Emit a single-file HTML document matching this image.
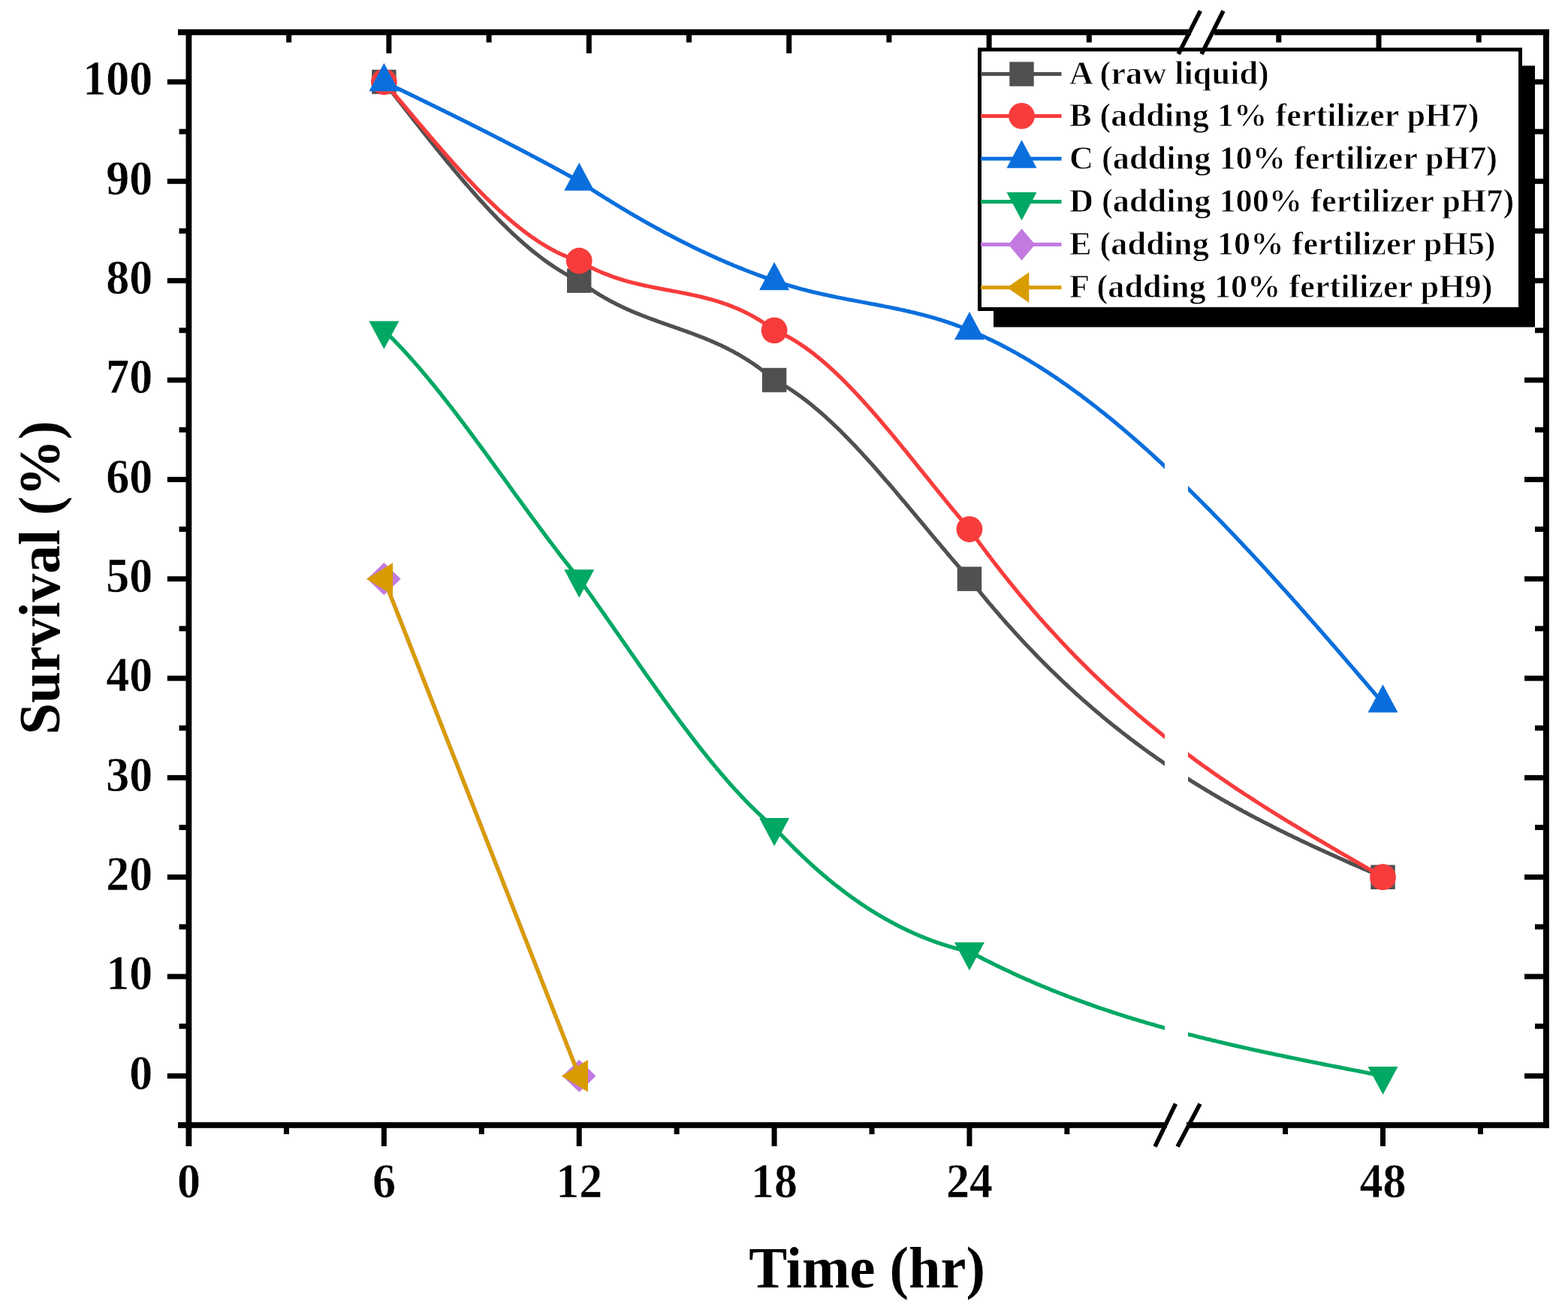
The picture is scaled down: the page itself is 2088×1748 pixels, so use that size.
<!DOCTYPE html>
<html><head><meta charset="utf-8"><title>Survival chart</title>
<style>html,body{margin:0;padding:0;background:#fff;}svg{display:block}</style>
</head><body>
<svg xmlns="http://www.w3.org/2000/svg" width="2088" height="1748" viewBox="0 0 2088 1748">
<rect x="0" y="0" width="2088" height="1748" fill="#fff"/>
<rect x="237.00" y="39.00" width="1349.00" height="7.80" fill="#000"/>
<rect x="1617.00" y="39.00" width="445.80" height="7.80" fill="#000"/>
<rect x="237.00" y="1494.00" width="1316.50" height="7.80" fill="#000"/>
<rect x="1580.00" y="1494.00" width="482.80" height="7.80" fill="#000"/>
<rect x="247.50" y="39.00" width="7.80" height="1487.00" fill="#000"/>
<rect x="2055.00" y="39.00" width="7.80" height="1462.80" fill="#000"/>
<rect x="222.80" y="1428.90" width="25.70" height="7.00" fill="#000"/>
<rect x="2030.00" y="1428.90" width="26.00" height="7.00" fill="#000"/>
<rect x="222.80" y="1296.56" width="25.70" height="7.00" fill="#000"/>
<rect x="2030.00" y="1296.56" width="26.00" height="7.00" fill="#000"/>
<rect x="222.80" y="1164.22" width="25.70" height="7.00" fill="#000"/>
<rect x="2030.00" y="1164.22" width="26.00" height="7.00" fill="#000"/>
<rect x="222.80" y="1031.88" width="25.70" height="7.00" fill="#000"/>
<rect x="2030.00" y="1031.88" width="26.00" height="7.00" fill="#000"/>
<rect x="222.80" y="899.54" width="25.70" height="7.00" fill="#000"/>
<rect x="2030.00" y="899.54" width="26.00" height="7.00" fill="#000"/>
<rect x="222.80" y="767.20" width="25.70" height="7.00" fill="#000"/>
<rect x="2030.00" y="767.20" width="26.00" height="7.00" fill="#000"/>
<rect x="222.80" y="634.86" width="25.70" height="7.00" fill="#000"/>
<rect x="2030.00" y="634.86" width="26.00" height="7.00" fill="#000"/>
<rect x="222.80" y="502.52" width="25.70" height="7.00" fill="#000"/>
<rect x="2030.00" y="502.52" width="26.00" height="7.00" fill="#000"/>
<rect x="222.80" y="370.18" width="25.70" height="7.00" fill="#000"/>
<rect x="2030.00" y="370.18" width="26.00" height="7.00" fill="#000"/>
<rect x="222.80" y="237.84" width="25.70" height="7.00" fill="#000"/>
<rect x="2030.00" y="237.84" width="26.00" height="7.00" fill="#000"/>
<rect x="222.80" y="105.50" width="25.70" height="7.00" fill="#000"/>
<rect x="2030.00" y="105.50" width="26.00" height="7.00" fill="#000"/>
<rect x="238.50" y="1362.73" width="10.00" height="7.00" fill="#000"/>
<rect x="2044.00" y="1362.73" width="12.00" height="7.00" fill="#000"/>
<rect x="238.50" y="1230.39" width="10.00" height="7.00" fill="#000"/>
<rect x="2044.00" y="1230.39" width="12.00" height="7.00" fill="#000"/>
<rect x="238.50" y="1098.05" width="10.00" height="7.00" fill="#000"/>
<rect x="2044.00" y="1098.05" width="12.00" height="7.00" fill="#000"/>
<rect x="238.50" y="965.71" width="10.00" height="7.00" fill="#000"/>
<rect x="2044.00" y="965.71" width="12.00" height="7.00" fill="#000"/>
<rect x="238.50" y="833.37" width="10.00" height="7.00" fill="#000"/>
<rect x="2044.00" y="833.37" width="12.00" height="7.00" fill="#000"/>
<rect x="238.50" y="701.03" width="10.00" height="7.00" fill="#000"/>
<rect x="2044.00" y="701.03" width="12.00" height="7.00" fill="#000"/>
<rect x="238.50" y="568.69" width="10.00" height="7.00" fill="#000"/>
<rect x="2044.00" y="568.69" width="12.00" height="7.00" fill="#000"/>
<rect x="238.50" y="436.35" width="10.00" height="7.00" fill="#000"/>
<rect x="2044.00" y="436.35" width="12.00" height="7.00" fill="#000"/>
<rect x="238.50" y="304.01" width="10.00" height="7.00" fill="#000"/>
<rect x="2044.00" y="304.01" width="12.00" height="7.00" fill="#000"/>
<rect x="238.50" y="171.67" width="10.00" height="7.00" fill="#000"/>
<rect x="2044.00" y="171.67" width="12.00" height="7.00" fill="#000"/>
<rect x="507.86" y="1500.80" width="7.00" height="25.20" fill="#000"/>
<rect x="767.72" y="1500.80" width="7.00" height="25.20" fill="#000"/>
<rect x="1027.58" y="1500.80" width="7.00" height="25.20" fill="#000"/>
<rect x="1287.44" y="1500.80" width="7.00" height="25.20" fill="#000"/>
<rect x="1838.00" y="1500.80" width="7.00" height="25.20" fill="#000"/>
<rect x="377.93" y="1500.80" width="7.00" height="9.20" fill="#000"/>
<rect x="637.79" y="1500.80" width="7.00" height="9.20" fill="#000"/>
<rect x="897.65" y="1500.80" width="7.00" height="9.20" fill="#000"/>
<rect x="1157.51" y="1500.80" width="7.00" height="9.20" fill="#000"/>
<rect x="1417.37" y="1500.80" width="7.00" height="9.20" fill="#000"/>
<rect x="1708.07" y="1500.80" width="7.00" height="9.20" fill="#000"/>
<rect x="1967.93" y="1500.80" width="7.00" height="9.20" fill="#000"/>
<rect x="514.40" y="40.00" width="7.00" height="31.00" fill="#000"/>
<rect x="780.80" y="40.00" width="7.00" height="31.00" fill="#000"/>
<rect x="1047.20" y="40.00" width="7.00" height="31.00" fill="#000"/>
<rect x="1313.60" y="40.00" width="7.00" height="31.00" fill="#000"/>
<rect x="1832.50" y="40.00" width="7.00" height="31.00" fill="#000"/>
<rect x="381.20" y="40.00" width="7.00" height="16.50" fill="#000"/>
<rect x="647.60" y="40.00" width="7.00" height="16.50" fill="#000"/>
<rect x="914.00" y="40.00" width="7.00" height="16.50" fill="#000"/>
<rect x="1180.40" y="40.00" width="7.00" height="16.50" fill="#000"/>
<rect x="1446.80" y="40.00" width="7.00" height="16.50" fill="#000"/>
<rect x="1699.30" y="40.00" width="7.00" height="16.50" fill="#000"/>
<rect x="1965.70" y="40.00" width="7.00" height="16.50" fill="#000"/>
<text transform="translate(203.2,1449.7) scale(1,1.06)" text-anchor="end" style="font-family:'Liberation Serif','Times New Roman',serif;font-weight:bold;font-size:62px" stroke="#fff" stroke-width="0.5">0</text>
<text transform="translate(203.2,1317.4) scale(1,1.06)" text-anchor="end" style="font-family:'Liberation Serif','Times New Roman',serif;font-weight:bold;font-size:62px" stroke="#fff" stroke-width="0.5">10</text>
<text transform="translate(203.2,1185.0) scale(1,1.06)" text-anchor="end" style="font-family:'Liberation Serif','Times New Roman',serif;font-weight:bold;font-size:62px" stroke="#fff" stroke-width="0.5">20</text>
<text transform="translate(203.2,1052.7) scale(1,1.06)" text-anchor="end" style="font-family:'Liberation Serif','Times New Roman',serif;font-weight:bold;font-size:62px" stroke="#fff" stroke-width="0.5">30</text>
<text transform="translate(203.2,920.3) scale(1,1.06)" text-anchor="end" style="font-family:'Liberation Serif','Times New Roman',serif;font-weight:bold;font-size:62px" stroke="#fff" stroke-width="0.5">40</text>
<text transform="translate(203.2,788.0) scale(1,1.06)" text-anchor="end" style="font-family:'Liberation Serif','Times New Roman',serif;font-weight:bold;font-size:62px" stroke="#fff" stroke-width="0.5">50</text>
<text transform="translate(203.2,655.7) scale(1,1.06)" text-anchor="end" style="font-family:'Liberation Serif','Times New Roman',serif;font-weight:bold;font-size:62px" stroke="#fff" stroke-width="0.5">60</text>
<text transform="translate(203.2,523.3) scale(1,1.06)" text-anchor="end" style="font-family:'Liberation Serif','Times New Roman',serif;font-weight:bold;font-size:62px" stroke="#fff" stroke-width="0.5">70</text>
<text transform="translate(203.2,391.0) scale(1,1.06)" text-anchor="end" style="font-family:'Liberation Serif','Times New Roman',serif;font-weight:bold;font-size:62px" stroke="#fff" stroke-width="0.5">80</text>
<text transform="translate(203.2,258.6) scale(1,1.06)" text-anchor="end" style="font-family:'Liberation Serif','Times New Roman',serif;font-weight:bold;font-size:62px" stroke="#fff" stroke-width="0.5">90</text>
<text transform="translate(203.2,126.3) scale(1,1.06)" text-anchor="end" style="font-family:'Liberation Serif','Times New Roman',serif;font-weight:bold;font-size:62px" stroke="#fff" stroke-width="0.5">100</text>
<text transform="translate(251.5,1594.2) scale(1,1.06)" text-anchor="middle" style="font-family:'Liberation Serif','Times New Roman',serif;font-weight:bold;font-size:62px" stroke="#fff" stroke-width="0.5">0</text>
<text transform="translate(511.4,1594.2) scale(1,1.06)" text-anchor="middle" style="font-family:'Liberation Serif','Times New Roman',serif;font-weight:bold;font-size:62px" stroke="#fff" stroke-width="0.5">6</text>
<text transform="translate(771.2,1594.2) scale(1,1.06)" text-anchor="middle" style="font-family:'Liberation Serif','Times New Roman',serif;font-weight:bold;font-size:62px" stroke="#fff" stroke-width="0.5">12</text>
<text transform="translate(1031.1,1594.2) scale(1,1.06)" text-anchor="middle" style="font-family:'Liberation Serif','Times New Roman',serif;font-weight:bold;font-size:62px" stroke="#fff" stroke-width="0.5">18</text>
<text transform="translate(1290.9,1594.2) scale(1,1.06)" text-anchor="middle" style="font-family:'Liberation Serif','Times New Roman',serif;font-weight:bold;font-size:62px" stroke="#fff" stroke-width="0.5">24</text>
<text transform="translate(1841.5,1594.2) scale(1,1.06)" text-anchor="middle" style="font-family:'Liberation Serif','Times New Roman',serif;font-weight:bold;font-size:62px" stroke="#fff" stroke-width="0.5">48</text>
<text transform="translate(1154.5,1713.6) scale(0.986,1)" text-anchor="middle" style="font-family:'Liberation Serif','Times New Roman',serif;font-weight:bold;font-size:77.5px">Time (hr)</text>
<text transform="translate(79,769) rotate(-90) scale(0.976,1)" x="0" y="0" text-anchor="middle" style="font-family:'Liberation Serif','Times New Roman',serif;font-weight:bold;font-size:77.5px">Survival (%)</text>
<defs><clipPath id="gap"><rect x="0" y="0" width="1551.0" height="1748"/><rect x="1582.0" y="0" width="506.0" height="1748"/></clipPath></defs>
<path d="M511.4,109.0 L512.7,110.7 L514.0,112.3 L515.3,114.0 L516.6,115.7 L517.9,117.3 L519.2,119.0 L520.5,120.7 L521.8,122.3 L523.1,124.0 L524.4,125.7 L525.7,127.4 L527.0,129.0 L528.3,130.7 L529.6,132.4 L530.9,134.0 L532.3,135.7 L533.6,137.4 L534.9,139.1 L536.2,140.7 L537.5,142.4 L538.8,144.1 L540.1,145.7 L541.4,147.4 L542.7,149.1 L544.0,150.7 L545.3,152.4 L546.6,154.1 L547.9,155.7 L549.2,157.4 L550.5,159.1 L551.8,160.7 L553.1,162.4 L554.5,164.0 L555.8,165.7 L557.1,167.4 L558.4,169.0 L559.7,170.7 L561.0,172.3 L562.3,174.0 L563.6,175.6 L564.9,177.3 L566.2,178.9 L567.5,180.5 L568.8,182.2 L570.1,183.8 L571.4,185.5 L572.7,187.1 L574.0,188.7 L575.3,190.4 L576.7,192.0 L578.0,193.6 L579.3,195.2 L580.6,196.9 L581.9,198.5 L583.2,200.1 L584.5,201.7 L585.8,203.3 L587.1,204.9 L588.4,206.5 L589.7,208.1 L591.0,209.7 L592.3,211.3 L593.6,212.9 L594.9,214.5 L596.2,216.1 L597.5,217.7 L598.9,219.3 L600.2,220.8 L601.5,222.4 L602.8,224.0 L604.1,225.6 L605.4,227.1 L606.7,228.7 L608.0,230.2 L609.3,231.8 L610.6,233.3 L611.9,234.9 L613.2,236.4 L614.5,237.9 L615.8,239.5 L617.1,241.0 L618.4,242.5 L619.7,244.0 L621.0,245.6 L622.4,247.1 L623.7,248.6 L625.0,250.1 L626.3,251.6 L627.6,253.1 L628.9,254.5 L630.2,256.0 L631.5,257.5 L632.8,259.0 L634.1,260.4 L635.4,261.9 L636.7,263.4 L638.0,264.8 L639.3,266.2 L640.6,267.7 L641.9,269.1 L643.2,270.5 L644.6,272.0 L645.9,273.4 L647.2,274.8 L648.5,276.2 L649.8,277.6 L651.1,279.0 L652.4,280.4 L653.7,281.8 L655.0,283.1 L656.3,284.5 L657.6,285.9 L658.9,287.2 L660.2,288.6 L661.5,289.9 L662.8,291.3 L664.1,292.6 L665.4,293.9 L666.8,295.3 L668.1,296.6 L669.4,297.9 L670.7,299.2 L672.0,300.5 L673.3,301.7 L674.6,303.0 L675.9,304.3 L677.2,305.6 L678.5,306.8 L679.8,308.1 L681.1,309.3 L682.4,310.5 L683.7,311.8 L685.0,313.0 L686.3,314.2 L687.6,315.4 L689.0,316.6 L690.3,317.8 L691.6,319.0 L692.9,320.1 L694.2,321.3 L695.5,322.5 L696.8,323.6 L698.1,324.8 L699.4,325.9 L700.7,327.0 L702.0,328.1 L703.3,329.2 L704.6,330.3 L705.9,331.4 L707.2,332.5 L708.5,333.6 L709.8,334.6 L711.2,335.7 L712.5,336.7 L713.8,337.8 L715.1,338.8 L716.4,339.8 L717.7,340.8 L719.0,341.8 L720.3,342.8 L721.6,343.8 L722.9,344.8 L724.2,345.8 L725.5,346.7 L726.8,347.7 L728.1,348.6 L729.4,349.5 L730.7,350.4 L732.0,351.3 L733.4,352.2 L734.7,353.1 L736.0,354.0 L737.3,354.9 L738.6,355.7 L739.9,356.6 L741.2,357.4 L742.5,358.2 L743.8,359.1 L745.1,359.9 L746.4,360.7 L747.7,361.4 L749.0,362.2 L750.3,363.0 L751.6,363.7 L752.9,364.5 L754.2,365.2 L755.6,365.9 L756.9,366.6 L758.2,367.3 L759.5,368.0 L760.8,368.7 L762.1,369.4 L763.4,370.0 L764.7,370.6 L766.0,371.3 L767.3,371.9 L768.6,372.5 L769.9,373.1 L771.2,373.7 L771.2,373.7 L772.5,374.7 L773.8,375.7 L775.1,376.7 L776.4,377.6 L777.7,378.6 L779.1,379.6 L780.4,380.5 L781.7,381.4 L783.0,382.4 L784.3,383.3 L785.6,384.2 L786.9,385.0 L788.2,385.9 L789.5,386.8 L790.8,387.6 L792.1,388.5 L793.4,389.3 L794.7,390.2 L796.0,391.0 L797.3,391.8 L798.6,392.6 L799.9,393.4 L801.3,394.1 L802.6,394.9 L803.9,395.7 L805.2,396.4 L806.5,397.2 L807.8,397.9 L809.1,398.6 L810.4,399.4 L811.7,400.1 L813.0,400.8 L814.3,401.5 L815.6,402.2 L816.9,402.8 L818.2,403.5 L819.5,404.2 L820.8,404.8 L822.1,405.5 L823.5,406.1 L824.8,406.8 L826.1,407.4 L827.4,408.0 L828.7,408.7 L830.0,409.3 L831.3,409.9 L832.6,410.5 L833.9,411.1 L835.2,411.7 L836.5,412.2 L837.8,412.8 L839.1,413.4 L840.4,414.0 L841.7,414.5 L843.0,415.1 L844.3,415.6 L845.7,416.2 L847.0,416.7 L848.3,417.2 L849.6,417.8 L850.9,418.3 L852.2,418.8 L853.5,419.4 L854.8,419.9 L856.1,420.4 L857.4,420.9 L858.7,421.4 L860.0,421.9 L861.3,422.4 L862.6,422.9 L863.9,423.4 L865.2,423.9 L866.5,424.4 L867.9,424.8 L869.2,425.3 L870.5,425.8 L871.8,426.3 L873.1,426.7 L874.4,427.2 L875.7,427.7 L877.0,428.2 L878.3,428.6 L879.6,429.1 L880.9,429.6 L882.2,430.0 L883.5,430.5 L884.8,430.9 L886.1,431.4 L887.4,431.9 L888.7,432.3 L890.1,432.8 L891.4,433.2 L892.7,433.7 L894.0,434.1 L895.3,434.6 L896.6,435.1 L897.9,435.5 L899.2,436.0 L900.5,436.4 L901.8,436.9 L903.1,437.3 L904.4,437.8 L905.7,438.3 L907.0,438.7 L908.3,439.2 L909.6,439.6 L910.9,440.1 L912.2,440.6 L913.6,441.0 L914.9,441.5 L916.2,442.0 L917.5,442.5 L918.8,442.9 L920.1,443.4 L921.4,443.9 L922.7,444.4 L924.0,444.9 L925.3,445.4 L926.6,445.9 L927.9,446.4 L929.2,446.9 L930.5,447.4 L931.8,447.9 L933.1,448.4 L934.4,448.9 L935.8,449.4 L937.1,449.9 L938.4,450.4 L939.7,451.0 L941.0,451.5 L942.3,452.1 L943.6,452.6 L944.9,453.1 L946.2,453.7 L947.5,454.3 L948.8,454.8 L950.1,455.4 L951.4,456.0 L952.7,456.5 L954.0,457.1 L955.3,457.7 L956.6,458.3 L958.0,458.9 L959.3,459.5 L960.6,460.1 L961.9,460.7 L963.2,461.4 L964.5,462.0 L965.8,462.6 L967.1,463.3 L968.4,463.9 L969.7,464.6 L971.0,465.3 L972.3,466.0 L973.6,466.6 L974.9,467.3 L976.2,468.0 L977.5,468.7 L978.8,469.4 L980.2,470.2 L981.5,470.9 L982.8,471.6 L984.1,472.4 L985.4,473.1 L986.7,473.9 L988.0,474.7 L989.3,475.5 L990.6,476.3 L991.9,477.1 L993.2,477.9 L994.5,478.7 L995.8,479.5 L997.1,480.4 L998.4,481.2 L999.7,482.1 L1001.0,482.9 L1002.4,483.8 L1003.7,484.7 L1005.0,485.6 L1006.3,486.5 L1007.6,487.4 L1008.9,488.4 L1010.2,489.3 L1011.5,490.3 L1012.8,491.2 L1014.1,492.2 L1015.4,493.2 L1016.7,494.2 L1018.0,495.2 L1019.3,496.2 L1020.6,497.3 L1021.9,498.3 L1023.2,499.4 L1024.6,500.5 L1025.9,501.5 L1027.2,502.6 L1028.5,503.8 L1029.8,504.9 L1031.1,506.0 L1031.1,506.0 L1032.4,506.7 L1033.7,507.4 L1035.0,508.1 L1036.3,508.8 L1037.6,509.5 L1038.9,510.2 L1040.2,510.9 L1041.5,511.7 L1042.8,512.4 L1044.1,513.2 L1045.4,514.0 L1046.7,514.8 L1048.1,515.6 L1049.4,516.4 L1050.7,517.2 L1052.0,518.1 L1053.3,518.9 L1054.6,519.8 L1055.9,520.7 L1057.2,521.5 L1058.5,522.4 L1059.8,523.3 L1061.1,524.2 L1062.4,525.2 L1063.7,526.1 L1065.0,527.0 L1066.3,528.0 L1067.6,528.9 L1068.9,529.9 L1070.3,530.9 L1071.6,531.9 L1072.9,532.9 L1074.2,533.9 L1075.5,534.9 L1076.8,535.9 L1078.1,537.0 L1079.4,538.0 L1080.7,539.1 L1082.0,540.1 L1083.3,541.2 L1084.6,542.3 L1085.9,543.4 L1087.2,544.5 L1088.5,545.6 L1089.8,546.7 L1091.1,547.8 L1092.5,549.0 L1093.8,550.1 L1095.1,551.3 L1096.4,552.4 L1097.7,553.6 L1099.0,554.7 L1100.3,555.9 L1101.6,557.1 L1102.9,558.3 L1104.2,559.5 L1105.5,560.7 L1106.8,562.0 L1108.1,563.2 L1109.4,564.4 L1110.7,565.7 L1112.0,566.9 L1113.3,568.2 L1114.7,569.4 L1116.0,570.7 L1117.3,572.0 L1118.6,573.2 L1119.9,574.5 L1121.2,575.8 L1122.5,577.1 L1123.8,578.4 L1125.1,579.8 L1126.4,581.1 L1127.7,582.4 L1129.0,583.7 L1130.3,585.1 L1131.6,586.4 L1132.9,587.8 L1134.2,589.1 L1135.5,590.5 L1136.9,591.9 L1138.2,593.2 L1139.5,594.6 L1140.8,596.0 L1142.1,597.4 L1143.4,598.8 L1144.7,600.2 L1146.0,601.6 L1147.3,603.0 L1148.6,604.4 L1149.9,605.9 L1151.2,607.3 L1152.5,608.7 L1153.8,610.1 L1155.1,611.6 L1156.4,613.0 L1157.7,614.5 L1159.1,615.9 L1160.4,617.4 L1161.7,618.8 L1163.0,620.3 L1164.3,621.8 L1165.6,623.3 L1166.9,624.7 L1168.2,626.2 L1169.5,627.7 L1170.8,629.2 L1172.1,630.7 L1173.4,632.2 L1174.7,633.7 L1176.0,635.2 L1177.3,636.7 L1178.6,638.2 L1179.9,639.7 L1181.3,641.2 L1182.6,642.7 L1183.9,644.2 L1185.2,645.8 L1186.5,647.3 L1187.8,648.8 L1189.1,650.3 L1190.4,651.9 L1191.7,653.4 L1193.0,654.9 L1194.3,656.5 L1195.6,658.0 L1196.9,659.6 L1198.2,661.1 L1199.5,662.7 L1200.8,664.2 L1202.1,665.8 L1203.4,667.3 L1204.8,668.9 L1206.1,670.4 L1207.4,672.0 L1208.7,673.5 L1210.0,675.1 L1211.3,676.6 L1212.6,678.2 L1213.9,679.8 L1215.2,681.3 L1216.5,682.9 L1217.8,684.4 L1219.1,686.0 L1220.4,687.6 L1221.7,689.1 L1223.0,690.7 L1224.3,692.3 L1225.6,693.8 L1227.0,695.4 L1228.3,697.0 L1229.6,698.5 L1230.9,700.1 L1232.2,701.7 L1233.5,703.2 L1234.8,704.8 L1236.1,706.4 L1237.4,707.9 L1238.7,709.5 L1240.0,711.1 L1241.3,712.6 L1242.6,714.2 L1243.9,715.7 L1245.2,717.3 L1246.5,718.9 L1247.8,720.4 L1249.2,722.0 L1250.5,723.5 L1251.8,725.1 L1253.1,726.6 L1254.4,728.2 L1255.7,729.7 L1257.0,731.3 L1258.3,732.8 L1259.6,734.4 L1260.9,735.9 L1262.2,737.5 L1263.5,739.0 L1264.8,740.5 L1266.1,742.1 L1267.4,743.6 L1268.7,745.1 L1270.0,746.7 L1271.4,748.2 L1272.7,749.7 L1274.0,751.2 L1275.3,752.7 L1276.6,754.3 L1277.9,755.8 L1279.2,757.3 L1280.5,758.8 L1281.8,760.3 L1283.1,761.8 L1284.4,763.3 L1285.7,764.8 L1287.0,766.3 L1288.3,767.7 L1289.6,769.2 L1290.9,770.7 L1290.9,770.7 L1293.7,774.2 L1296.5,777.6 L1299.2,781.1 L1302.0,784.5 L1304.8,787.9 L1307.5,791.3 L1310.3,794.6 L1313.1,798.0 L1315.8,801.3 L1318.6,804.6 L1321.4,807.8 L1324.1,811.1 L1326.9,814.3 L1329.7,817.5 L1332.4,820.7 L1335.2,823.9 L1338.0,827.0 L1340.7,830.2 L1343.5,833.3 L1346.3,836.3 L1349.0,839.4 L1351.8,842.5 L1354.6,845.5 L1357.3,848.5 L1360.1,851.5 L1362.9,854.5 L1365.6,857.4 L1368.4,860.3 L1371.2,863.2 L1373.9,866.1 L1376.7,869.0 L1379.5,871.9 L1382.2,874.7 L1385.0,877.5 L1387.8,880.3 L1390.5,883.1 L1393.3,885.9 L1396.1,888.6 L1398.8,891.3 L1401.6,894.0 L1404.4,896.7 L1407.1,899.4 L1409.9,902.0 L1412.7,904.7 L1415.4,907.3 L1418.2,909.9 L1421.0,912.5 L1423.7,915.1 L1426.5,917.6 L1429.3,920.1 L1432.0,922.7 L1434.8,925.2 L1437.6,927.6 L1440.3,930.1 L1443.1,932.6 L1445.9,935.0 L1448.6,937.4 L1451.4,939.8 L1454.2,942.2 L1456.9,944.6 L1459.7,946.9 L1462.5,949.3 L1465.2,951.6 L1468.0,953.9 L1470.8,956.2 L1473.5,958.5 L1476.3,960.7 L1479.1,963.0 L1481.8,965.2 L1484.6,967.4 L1487.4,969.6 L1490.1,971.8 L1492.9,974.0 L1495.7,976.2 L1498.4,978.3 L1501.2,980.4 L1504.0,982.6 L1506.7,984.7 L1509.5,986.7 L1512.3,988.8 L1515.0,990.9 L1517.8,992.9 L1520.6,995.0 L1523.3,997.0 L1526.1,999.0 L1528.9,1001.0 L1531.6,1003.0 L1534.4,1004.9 L1537.2,1006.9 L1539.9,1008.8 L1542.7,1010.8 L1545.5,1012.7 L1548.2,1014.6 L1551.0,1016.5 L1553.8,1018.4 L1556.5,1020.3 L1559.3,1022.1 L1562.1,1024.0 L1564.8,1025.8 L1567.6,1027.6 L1570.4,1029.4 L1573.1,1031.2 L1575.9,1033.0 L1578.7,1034.8 L1581.4,1036.6 L1584.2,1038.3 L1587.0,1040.1 L1589.7,1041.8 L1592.5,1043.5 L1595.3,1045.2 L1598.0,1046.9 L1600.8,1048.6 L1603.6,1050.3 L1606.3,1052.0 L1609.1,1053.6 L1611.9,1055.3 L1614.6,1056.9 L1617.4,1058.5 L1620.2,1060.2 L1622.9,1061.8 L1625.7,1063.4 L1628.5,1065.0 L1631.2,1066.6 L1634.0,1068.1 L1636.8,1069.7 L1639.5,1071.2 L1642.3,1072.8 L1645.1,1074.3 L1647.8,1075.9 L1650.6,1077.4 L1653.4,1078.9 L1656.1,1080.4 L1658.9,1081.9 L1661.7,1083.4 L1664.4,1084.9 L1667.2,1086.3 L1670.0,1087.8 L1672.7,1089.3 L1675.5,1090.7 L1678.3,1092.1 L1681.0,1093.6 L1683.8,1095.0 L1686.6,1096.4 L1689.3,1097.8 L1692.1,1099.2 L1694.9,1100.6 L1697.6,1102.0 L1700.4,1103.4 L1703.2,1104.8 L1705.9,1106.2 L1708.7,1107.5 L1711.5,1108.9 L1714.2,1110.3 L1717.0,1111.6 L1719.8,1112.9 L1722.5,1114.3 L1725.3,1115.6 L1728.1,1116.9 L1730.8,1118.3 L1733.6,1119.6 L1736.4,1120.9 L1739.1,1122.2 L1741.9,1123.5 L1744.7,1124.8 L1747.4,1126.1 L1750.2,1127.3 L1753.0,1128.6 L1755.7,1129.9 L1758.5,1131.2 L1761.3,1132.4 L1764.0,1133.7 L1766.8,1135.0 L1769.6,1136.2 L1772.3,1137.5 L1775.1,1138.7 L1777.9,1139.9 L1780.6,1141.2 L1783.4,1142.4 L1786.2,1143.6 L1788.9,1144.9 L1791.7,1146.1 L1794.5,1147.3 L1797.2,1148.5 L1800.0,1149.8 L1802.8,1151.0 L1805.5,1152.2 L1808.3,1153.4 L1811.1,1154.6 L1813.8,1155.8 L1816.6,1157.0 L1819.4,1158.2 L1822.1,1159.4 L1824.9,1160.6 L1827.7,1161.8 L1830.4,1163.0 L1833.2,1164.2 L1836.0,1165.3 L1838.7,1166.5 L1841.5,1167.7" fill="none" stroke="#505050" stroke-width="5.2" stroke-linejoin="round" clip-path="url(#gap)"/>
<rect x="495.16" y="92.80" width="32.40" height="32.40" fill="#505050"/>
<rect x="755.02" y="357.48" width="32.40" height="32.40" fill="#505050"/>
<rect x="1014.88" y="489.82" width="32.40" height="32.40" fill="#505050"/>
<rect x="1274.74" y="754.50" width="32.40" height="32.40" fill="#505050"/>
<rect x="1825.30" y="1151.52" width="32.40" height="32.40" fill="#505050"/>
<path d="M511.4,109.0 L512.7,110.5 L514.0,112.1 L515.3,113.6 L516.6,115.1 L517.9,116.7 L519.2,118.2 L520.5,119.8 L521.8,121.3 L523.1,122.9 L524.4,124.4 L525.7,126.0 L527.0,127.5 L528.3,129.0 L529.6,130.6 L530.9,132.1 L532.3,133.7 L533.6,135.2 L534.9,136.8 L536.2,138.3 L537.5,139.9 L538.8,141.4 L540.1,143.0 L541.4,144.5 L542.7,146.1 L544.0,147.6 L545.3,149.2 L546.6,150.7 L547.9,152.3 L549.2,153.8 L550.5,155.4 L551.8,156.9 L553.1,158.5 L554.5,160.0 L555.8,161.6 L557.1,163.1 L558.4,164.7 L559.7,166.2 L561.0,167.8 L562.3,169.3 L563.6,170.8 L564.9,172.4 L566.2,173.9 L567.5,175.4 L568.8,177.0 L570.1,178.5 L571.4,180.0 L572.7,181.6 L574.0,183.1 L575.3,184.6 L576.7,186.1 L578.0,187.6 L579.3,189.2 L580.6,190.7 L581.9,192.2 L583.2,193.7 L584.5,195.2 L585.8,196.7 L587.1,198.2 L588.4,199.7 L589.7,201.2 L591.0,202.7 L592.3,204.2 L593.6,205.7 L594.9,207.2 L596.2,208.6 L597.5,210.1 L598.9,211.6 L600.2,213.1 L601.5,214.5 L602.8,216.0 L604.1,217.4 L605.4,218.9 L606.7,220.4 L608.0,221.8 L609.3,223.3 L610.6,224.7 L611.9,226.1 L613.2,227.6 L614.5,229.0 L615.8,230.4 L617.1,231.8 L618.4,233.2 L619.7,234.7 L621.0,236.1 L622.4,237.5 L623.7,238.9 L625.0,240.2 L626.3,241.6 L627.6,243.0 L628.9,244.4 L630.2,245.8 L631.5,247.1 L632.8,248.5 L634.1,249.8 L635.4,251.2 L636.7,252.5 L638.0,253.9 L639.3,255.2 L640.6,256.5 L641.9,257.9 L643.2,259.2 L644.6,260.5 L645.9,261.8 L647.2,263.1 L648.5,264.4 L649.8,265.7 L651.1,266.9 L652.4,268.2 L653.7,269.5 L655.0,270.7 L656.3,272.0 L657.6,273.2 L658.9,274.5 L660.2,275.7 L661.5,276.9 L662.8,278.1 L664.1,279.3 L665.4,280.6 L666.8,281.7 L668.1,282.9 L669.4,284.1 L670.7,285.3 L672.0,286.5 L673.3,287.6 L674.6,288.8 L675.9,289.9 L677.2,291.0 L678.5,292.2 L679.8,293.3 L681.1,294.4 L682.4,295.5 L683.7,296.6 L685.0,297.7 L686.3,298.8 L687.6,299.8 L689.0,300.9 L690.3,301.9 L691.6,303.0 L692.9,304.0 L694.2,305.0 L695.5,306.1 L696.8,307.1 L698.1,308.1 L699.4,309.1 L700.7,310.0 L702.0,311.0 L703.3,312.0 L704.6,312.9 L705.9,313.9 L707.2,314.8 L708.5,315.7 L709.8,316.6 L711.2,317.5 L712.5,318.4 L713.8,319.3 L715.1,320.2 L716.4,321.1 L717.7,321.9 L719.0,322.8 L720.3,323.6 L721.6,324.4 L722.9,325.2 L724.2,326.0 L725.5,326.8 L726.8,327.6 L728.1,328.4 L729.4,329.1 L730.7,329.9 L732.0,330.6 L733.4,331.3 L734.7,332.1 L736.0,332.8 L737.3,333.4 L738.6,334.1 L739.9,334.8 L741.2,335.5 L742.5,336.1 L743.8,336.7 L745.1,337.4 L746.4,338.0 L747.7,338.6 L749.0,339.2 L750.3,339.7 L751.6,340.3 L752.9,340.8 L754.2,341.4 L755.6,341.9 L756.9,342.4 L758.2,342.9 L759.5,343.4 L760.8,343.9 L762.1,344.3 L763.4,344.8 L764.7,345.2 L766.0,345.6 L767.3,346.1 L768.6,346.5 L769.9,346.8 L771.2,347.2 L771.2,347.2 L772.5,348.0 L773.8,348.8 L775.1,349.6 L776.4,350.3 L777.7,351.1 L779.1,351.8 L780.4,352.5 L781.7,353.2 L783.0,353.9 L784.3,354.6 L785.6,355.3 L786.9,356.0 L788.2,356.6 L789.5,357.3 L790.8,357.9 L792.1,358.5 L793.4,359.2 L794.7,359.8 L796.0,360.4 L797.3,360.9 L798.6,361.5 L799.9,362.1 L801.3,362.7 L802.6,363.2 L803.9,363.7 L805.2,364.3 L806.5,364.8 L807.8,365.3 L809.1,365.8 L810.4,366.3 L811.7,366.8 L813.0,367.3 L814.3,367.8 L815.6,368.2 L816.9,368.7 L818.2,369.2 L819.5,369.6 L820.8,370.0 L822.1,370.5 L823.5,370.9 L824.8,371.3 L826.1,371.7 L827.4,372.1 L828.7,372.5 L830.0,372.9 L831.3,373.3 L832.6,373.7 L833.9,374.0 L835.2,374.4 L836.5,374.8 L837.8,375.1 L839.1,375.5 L840.4,375.8 L841.7,376.2 L843.0,376.5 L844.3,376.8 L845.7,377.1 L847.0,377.5 L848.3,377.8 L849.6,378.1 L850.9,378.4 L852.2,378.7 L853.5,379.0 L854.8,379.3 L856.1,379.6 L857.4,379.9 L858.7,380.2 L860.0,380.4 L861.3,380.7 L862.6,381.0 L863.9,381.3 L865.2,381.5 L866.5,381.8 L867.9,382.1 L869.2,382.3 L870.5,382.6 L871.8,382.9 L873.1,383.1 L874.4,383.4 L875.7,383.6 L877.0,383.9 L878.3,384.1 L879.6,384.4 L880.9,384.6 L882.2,384.9 L883.5,385.1 L884.8,385.4 L886.1,385.6 L887.4,385.9 L888.7,386.1 L890.1,386.3 L891.4,386.6 L892.7,386.8 L894.0,387.1 L895.3,387.3 L896.6,387.6 L897.9,387.8 L899.2,388.0 L900.5,388.3 L901.8,388.5 L903.1,388.8 L904.4,389.0 L905.7,389.3 L907.0,389.5 L908.3,389.8 L909.6,390.1 L910.9,390.3 L912.2,390.6 L913.6,390.8 L914.9,391.1 L916.2,391.4 L917.5,391.6 L918.8,391.9 L920.1,392.2 L921.4,392.5 L922.7,392.7 L924.0,393.0 L925.3,393.3 L926.6,393.6 L927.9,393.9 L929.2,394.2 L930.5,394.5 L931.8,394.8 L933.1,395.1 L934.4,395.4 L935.8,395.7 L937.1,396.1 L938.4,396.4 L939.7,396.7 L941.0,397.1 L942.3,397.4 L943.6,397.8 L944.9,398.1 L946.2,398.5 L947.5,398.8 L948.8,399.2 L950.1,399.6 L951.4,400.0 L952.7,400.3 L954.0,400.7 L955.3,401.1 L956.6,401.6 L958.0,402.0 L959.3,402.4 L960.6,402.8 L961.9,403.2 L963.2,403.7 L964.5,404.1 L965.8,404.6 L967.1,405.1 L968.4,405.5 L969.7,406.0 L971.0,406.5 L972.3,407.0 L973.6,407.5 L974.9,408.0 L976.2,408.5 L977.5,409.1 L978.8,409.6 L980.2,410.1 L981.5,410.7 L982.8,411.3 L984.1,411.8 L985.4,412.4 L986.7,413.0 L988.0,413.6 L989.3,414.2 L990.6,414.9 L991.9,415.5 L993.2,416.1 L994.5,416.8 L995.8,417.5 L997.1,418.1 L998.4,418.8 L999.7,419.5 L1001.0,420.2 L1002.4,420.9 L1003.7,421.7 L1005.0,422.4 L1006.3,423.2 L1007.6,423.9 L1008.9,424.7 L1010.2,425.5 L1011.5,426.3 L1012.8,427.1 L1014.1,427.9 L1015.4,428.8 L1016.7,429.6 L1018.0,430.5 L1019.3,431.4 L1020.6,432.3 L1021.9,433.2 L1023.2,434.1 L1024.6,435.0 L1025.9,435.9 L1027.2,436.9 L1028.5,437.9 L1029.8,438.9 L1031.1,439.9 L1031.1,439.9 L1032.4,440.4 L1033.7,440.9 L1035.0,441.4 L1036.3,442.0 L1037.6,442.6 L1038.9,443.2 L1040.2,443.8 L1041.5,444.4 L1042.8,445.0 L1044.1,445.7 L1045.4,446.3 L1046.7,447.0 L1048.1,447.7 L1049.4,448.4 L1050.7,449.1 L1052.0,449.8 L1053.3,450.5 L1054.6,451.3 L1055.9,452.1 L1057.2,452.8 L1058.5,453.6 L1059.8,454.4 L1061.1,455.2 L1062.4,456.1 L1063.7,456.9 L1065.0,457.7 L1066.3,458.6 L1067.6,459.5 L1068.9,460.4 L1070.3,461.3 L1071.6,462.2 L1072.9,463.1 L1074.2,464.0 L1075.5,465.0 L1076.8,465.9 L1078.1,466.9 L1079.4,467.9 L1080.7,468.9 L1082.0,469.9 L1083.3,470.9 L1084.6,471.9 L1085.9,472.9 L1087.2,474.0 L1088.5,475.0 L1089.8,476.1 L1091.1,477.1 L1092.5,478.2 L1093.8,479.3 L1095.1,480.4 L1096.4,481.5 L1097.7,482.7 L1099.0,483.8 L1100.3,484.9 L1101.6,486.1 L1102.9,487.3 L1104.2,488.4 L1105.5,489.6 L1106.8,490.8 L1108.1,492.0 L1109.4,493.2 L1110.7,494.4 L1112.0,495.6 L1113.3,496.9 L1114.7,498.1 L1116.0,499.4 L1117.3,500.6 L1118.6,501.9 L1119.9,503.2 L1121.2,504.4 L1122.5,505.7 L1123.8,507.0 L1125.1,508.3 L1126.4,509.7 L1127.7,511.0 L1129.0,512.3 L1130.3,513.6 L1131.6,515.0 L1132.9,516.3 L1134.2,517.7 L1135.5,519.1 L1136.9,520.4 L1138.2,521.8 L1139.5,523.2 L1140.8,524.6 L1142.1,526.0 L1143.4,527.4 L1144.7,528.8 L1146.0,530.2 L1147.3,531.7 L1148.6,533.1 L1149.9,534.5 L1151.2,536.0 L1152.5,537.4 L1153.8,538.9 L1155.1,540.3 L1156.4,541.8 L1157.7,543.3 L1159.1,544.7 L1160.4,546.2 L1161.7,547.7 L1163.0,549.2 L1164.3,550.7 L1165.6,552.2 L1166.9,553.7 L1168.2,555.2 L1169.5,556.7 L1170.8,558.3 L1172.1,559.8 L1173.4,561.3 L1174.7,562.8 L1176.0,564.4 L1177.3,565.9 L1178.6,567.5 L1179.9,569.0 L1181.3,570.6 L1182.6,572.1 L1183.9,573.7 L1185.2,575.2 L1186.5,576.8 L1187.8,578.4 L1189.1,579.9 L1190.4,581.5 L1191.7,583.1 L1193.0,584.7 L1194.3,586.3 L1195.6,587.9 L1196.9,589.4 L1198.2,591.0 L1199.5,592.6 L1200.8,594.2 L1202.1,595.8 L1203.4,597.4 L1204.8,599.0 L1206.1,600.6 L1207.4,602.2 L1208.7,603.8 L1210.0,605.5 L1211.3,607.1 L1212.6,608.7 L1213.9,610.3 L1215.2,611.9 L1216.5,613.5 L1217.8,615.1 L1219.1,616.8 L1220.4,618.4 L1221.7,620.0 L1223.0,621.6 L1224.3,623.3 L1225.6,624.9 L1227.0,626.5 L1228.3,628.1 L1229.6,629.7 L1230.9,631.4 L1232.2,633.0 L1233.5,634.6 L1234.8,636.2 L1236.1,637.9 L1237.4,639.5 L1238.7,641.1 L1240.0,642.7 L1241.3,644.3 L1242.6,646.0 L1243.9,647.6 L1245.2,649.2 L1246.5,650.8 L1247.8,652.4 L1249.2,654.1 L1250.5,655.7 L1251.8,657.3 L1253.1,658.9 L1254.4,660.5 L1255.7,662.1 L1257.0,663.7 L1258.3,665.3 L1259.6,666.9 L1260.9,668.5 L1262.2,670.1 L1263.5,671.7 L1264.8,673.3 L1266.1,674.9 L1267.4,676.5 L1268.7,678.1 L1270.0,679.7 L1271.4,681.2 L1272.7,682.8 L1274.0,684.4 L1275.3,686.0 L1276.6,687.5 L1277.9,689.1 L1279.2,690.6 L1280.5,692.2 L1281.8,693.8 L1283.1,695.3 L1284.4,696.9 L1285.7,698.4 L1287.0,699.9 L1288.3,701.5 L1289.6,703.0 L1290.9,704.5 L1290.9,704.5 L1293.7,708.4 L1296.5,712.2 L1299.2,716.0 L1302.0,719.8 L1304.8,723.6 L1307.5,727.3 L1310.3,731.0 L1313.1,734.7 L1315.8,738.4 L1318.6,742.0 L1321.4,745.7 L1324.1,749.3 L1326.9,752.9 L1329.7,756.4 L1332.4,759.9 L1335.2,763.5 L1338.0,767.0 L1340.7,770.4 L1343.5,773.9 L1346.3,777.3 L1349.0,780.7 L1351.8,784.1 L1354.6,787.5 L1357.3,790.8 L1360.1,794.1 L1362.9,797.5 L1365.6,800.7 L1368.4,804.0 L1371.2,807.2 L1373.9,810.5 L1376.7,813.7 L1379.5,816.9 L1382.2,820.0 L1385.0,823.2 L1387.8,826.3 L1390.5,829.4 L1393.3,832.5 L1396.1,835.6 L1398.8,838.6 L1401.6,841.6 L1404.4,844.6 L1407.1,847.6 L1409.9,850.6 L1412.7,853.6 L1415.4,856.5 L1418.2,859.4 L1421.0,862.3 L1423.7,865.2 L1426.5,868.1 L1429.3,870.9 L1432.0,873.8 L1434.8,876.6 L1437.6,879.4 L1440.3,882.1 L1443.1,884.9 L1445.9,887.7 L1448.6,890.4 L1451.4,893.1 L1454.2,895.8 L1456.9,898.5 L1459.7,901.1 L1462.5,903.8 L1465.2,906.4 L1468.0,909.0 L1470.8,911.6 L1473.5,914.2 L1476.3,916.8 L1479.1,919.3 L1481.8,921.9 L1484.6,924.4 L1487.4,926.9 L1490.1,929.4 L1492.9,931.9 L1495.7,934.3 L1498.4,936.8 L1501.2,939.2 L1504.0,941.6 L1506.7,944.0 L1509.5,946.4 L1512.3,948.8 L1515.0,951.2 L1517.8,953.5 L1520.6,955.9 L1523.3,958.2 L1526.1,960.5 L1528.9,962.8 L1531.6,965.1 L1534.4,967.3 L1537.2,969.6 L1539.9,971.8 L1542.7,974.1 L1545.5,976.3 L1548.2,978.5 L1551.0,980.7 L1553.8,982.9 L1556.5,985.1 L1559.3,987.2 L1562.1,989.4 L1564.8,991.5 L1567.6,993.6 L1570.4,995.7 L1573.1,997.8 L1575.9,999.9 L1578.7,1002.0 L1581.4,1004.1 L1584.2,1006.1 L1587.0,1008.2 L1589.7,1010.2 L1592.5,1012.3 L1595.3,1014.3 L1598.0,1016.3 L1600.8,1018.3 L1603.6,1020.3 L1606.3,1022.2 L1609.1,1024.2 L1611.9,1026.2 L1614.6,1028.1 L1617.4,1030.1 L1620.2,1032.0 L1622.9,1033.9 L1625.7,1035.8 L1628.5,1037.7 L1631.2,1039.6 L1634.0,1041.5 L1636.8,1043.4 L1639.5,1045.3 L1642.3,1047.1 L1645.1,1049.0 L1647.8,1050.8 L1650.6,1052.7 L1653.4,1054.5 L1656.1,1056.3 L1658.9,1058.1 L1661.7,1059.9 L1664.4,1061.7 L1667.2,1063.5 L1670.0,1065.3 L1672.7,1067.1 L1675.5,1068.9 L1678.3,1070.6 L1681.0,1072.4 L1683.8,1074.2 L1686.6,1075.9 L1689.3,1077.7 L1692.1,1079.4 L1694.9,1081.1 L1697.6,1082.8 L1700.4,1084.6 L1703.2,1086.3 L1705.9,1088.0 L1708.7,1089.7 L1711.5,1091.4 L1714.2,1093.1 L1717.0,1094.8 L1719.8,1096.5 L1722.5,1098.1 L1725.3,1099.8 L1728.1,1101.5 L1730.8,1103.1 L1733.6,1104.8 L1736.4,1106.5 L1739.1,1108.1 L1741.9,1109.8 L1744.7,1111.4 L1747.4,1113.1 L1750.2,1114.7 L1753.0,1116.3 L1755.7,1118.0 L1758.5,1119.6 L1761.3,1121.2 L1764.0,1122.8 L1766.8,1124.5 L1769.6,1126.1 L1772.3,1127.7 L1775.1,1129.3 L1777.9,1130.9 L1780.6,1132.5 L1783.4,1134.2 L1786.2,1135.8 L1788.9,1137.4 L1791.7,1139.0 L1794.5,1140.6 L1797.2,1142.2 L1800.0,1143.8 L1802.8,1145.4 L1805.5,1147.0 L1808.3,1148.6 L1811.1,1150.2 L1813.8,1151.8 L1816.6,1153.4 L1819.4,1155.0 L1822.1,1156.5 L1824.9,1158.1 L1827.7,1159.7 L1830.4,1161.3 L1833.2,1162.9 L1836.0,1164.5 L1838.7,1166.1 L1841.5,1167.7" fill="none" stroke="#f83c3c" stroke-width="5.2" stroke-linejoin="round" clip-path="url(#gap)"/>
<circle cx="511.36" cy="109.00" r="17.40" fill="#f83c3c"/>
<circle cx="771.22" cy="347.21" r="17.40" fill="#f83c3c"/>
<circle cx="1031.08" cy="439.85" r="17.40" fill="#f83c3c"/>
<circle cx="1290.94" cy="704.53" r="17.40" fill="#f83c3c"/>
<circle cx="1841.50" cy="1167.72" r="17.40" fill="#f83c3c"/>
<path d="M511.4,109.0 L512.7,109.6 L514.0,110.2 L515.3,110.9 L516.6,111.5 L517.9,112.1 L519.2,112.7 L520.5,113.4 L521.8,114.0 L523.1,114.6 L524.4,115.3 L525.7,115.9 L527.0,116.5 L528.3,117.1 L529.6,117.8 L530.9,118.4 L532.3,119.0 L533.6,119.6 L534.9,120.3 L536.2,120.9 L537.5,121.5 L538.8,122.2 L540.1,122.8 L541.4,123.4 L542.7,124.0 L544.0,124.7 L545.3,125.3 L546.6,125.9 L547.9,126.6 L549.2,127.2 L550.5,127.8 L551.8,128.5 L553.1,129.1 L554.5,129.7 L555.8,130.4 L557.1,131.0 L558.4,131.6 L559.7,132.3 L561.0,132.9 L562.3,133.5 L563.6,134.2 L564.9,134.8 L566.2,135.4 L567.5,136.1 L568.8,136.7 L570.1,137.4 L571.4,138.0 L572.7,138.6 L574.0,139.3 L575.3,139.9 L576.7,140.5 L578.0,141.2 L579.3,141.8 L580.6,142.5 L581.9,143.1 L583.2,143.7 L584.5,144.4 L585.8,145.0 L587.1,145.7 L588.4,146.3 L589.7,146.9 L591.0,147.6 L592.3,148.2 L593.6,148.9 L594.9,149.5 L596.2,150.2 L597.5,150.8 L598.9,151.5 L600.2,152.1 L601.5,152.7 L602.8,153.4 L604.1,154.0 L605.4,154.7 L606.7,155.3 L608.0,156.0 L609.3,156.6 L610.6,157.3 L611.9,157.9 L613.2,158.6 L614.5,159.2 L615.8,159.9 L617.1,160.5 L618.4,161.2 L619.7,161.8 L621.0,162.5 L622.4,163.1 L623.7,163.8 L625.0,164.4 L626.3,165.1 L627.6,165.8 L628.9,166.4 L630.2,167.1 L631.5,167.7 L632.8,168.4 L634.1,169.0 L635.4,169.7 L636.7,170.4 L638.0,171.0 L639.3,171.7 L640.6,172.3 L641.9,173.0 L643.2,173.7 L644.6,174.3 L645.9,175.0 L647.2,175.6 L648.5,176.3 L649.8,177.0 L651.1,177.6 L652.4,178.3 L653.7,179.0 L655.0,179.6 L656.3,180.3 L657.6,181.0 L658.9,181.6 L660.2,182.3 L661.5,183.0 L662.8,183.6 L664.1,184.3 L665.4,185.0 L666.8,185.6 L668.1,186.3 L669.4,187.0 L670.7,187.7 L672.0,188.3 L673.3,189.0 L674.6,189.7 L675.9,190.3 L677.2,191.0 L678.5,191.7 L679.8,192.4 L681.1,193.0 L682.4,193.7 L683.7,194.4 L685.0,195.1 L686.3,195.8 L687.6,196.4 L689.0,197.1 L690.3,197.8 L691.6,198.5 L692.9,199.2 L694.2,199.9 L695.5,200.5 L696.8,201.2 L698.1,201.9 L699.4,202.6 L700.7,203.3 L702.0,204.0 L703.3,204.6 L704.6,205.3 L705.9,206.0 L707.2,206.7 L708.5,207.4 L709.8,208.1 L711.2,208.8 L712.5,209.5 L713.8,210.2 L715.1,210.9 L716.4,211.6 L717.7,212.3 L719.0,212.9 L720.3,213.6 L721.6,214.3 L722.9,215.0 L724.2,215.7 L725.5,216.4 L726.8,217.1 L728.1,217.8 L729.4,218.5 L730.7,219.2 L732.0,219.9 L733.4,220.6 L734.7,221.3 L736.0,222.0 L737.3,222.8 L738.6,223.5 L739.9,224.2 L741.2,224.9 L742.5,225.6 L743.8,226.3 L745.1,227.0 L746.4,227.7 L747.7,228.4 L749.0,229.1 L750.3,229.8 L751.6,230.6 L752.9,231.3 L754.2,232.0 L755.6,232.7 L756.9,233.4 L758.2,234.1 L759.5,234.8 L760.8,235.6 L762.1,236.3 L763.4,237.0 L764.7,237.7 L766.0,238.4 L767.3,239.2 L768.6,239.9 L769.9,240.6 L771.2,241.3 L771.2,241.3 L772.5,242.2 L773.8,243.1 L775.1,243.9 L776.4,244.8 L777.7,245.6 L779.1,246.5 L780.4,247.3 L781.7,248.2 L783.0,249.0 L784.3,249.8 L785.6,250.7 L786.9,251.5 L788.2,252.4 L789.5,253.2 L790.8,254.0 L792.1,254.9 L793.4,255.7 L794.7,256.5 L796.0,257.3 L797.3,258.2 L798.6,259.0 L799.9,259.8 L801.3,260.6 L802.6,261.5 L803.9,262.3 L805.2,263.1 L806.5,263.9 L807.8,264.7 L809.1,265.5 L810.4,266.3 L811.7,267.1 L813.0,267.9 L814.3,268.7 L815.6,269.5 L816.9,270.3 L818.2,271.1 L819.5,271.9 L820.8,272.7 L822.1,273.5 L823.5,274.3 L824.8,275.1 L826.1,275.9 L827.4,276.7 L828.7,277.5 L830.0,278.2 L831.3,279.0 L832.6,279.8 L833.9,280.6 L835.2,281.4 L836.5,282.1 L837.8,282.9 L839.1,283.7 L840.4,284.4 L841.7,285.2 L843.0,286.0 L844.3,286.7 L845.7,287.5 L847.0,288.2 L848.3,289.0 L849.6,289.7 L850.9,290.5 L852.2,291.2 L853.5,292.0 L854.8,292.7 L856.1,293.5 L857.4,294.2 L858.7,295.0 L860.0,295.7 L861.3,296.4 L862.6,297.2 L863.9,297.9 L865.2,298.6 L866.5,299.4 L867.9,300.1 L869.2,300.8 L870.5,301.5 L871.8,302.3 L873.1,303.0 L874.4,303.7 L875.7,304.4 L877.0,305.1 L878.3,305.8 L879.6,306.5 L880.9,307.3 L882.2,308.0 L883.5,308.7 L884.8,309.4 L886.1,310.1 L887.4,310.8 L888.7,311.4 L890.1,312.1 L891.4,312.8 L892.7,313.5 L894.0,314.2 L895.3,314.9 L896.6,315.6 L897.9,316.2 L899.2,316.9 L900.5,317.6 L901.8,318.3 L903.1,318.9 L904.4,319.6 L905.7,320.3 L907.0,320.9 L908.3,321.6 L909.6,322.3 L910.9,322.9 L912.2,323.6 L913.6,324.2 L914.9,324.9 L916.2,325.5 L917.5,326.2 L918.8,326.8 L920.1,327.5 L921.4,328.1 L922.7,328.8 L924.0,329.4 L925.3,330.0 L926.6,330.7 L927.9,331.3 L929.2,331.9 L930.5,332.5 L931.8,333.2 L933.1,333.8 L934.4,334.4 L935.8,335.0 L937.1,335.6 L938.4,336.3 L939.7,336.9 L941.0,337.5 L942.3,338.1 L943.6,338.7 L944.9,339.3 L946.2,339.9 L947.5,340.5 L948.8,341.1 L950.1,341.7 L951.4,342.3 L952.7,342.8 L954.0,343.4 L955.3,344.0 L956.6,344.6 L958.0,345.2 L959.3,345.7 L960.6,346.3 L961.9,346.9 L963.2,347.5 L964.5,348.0 L965.8,348.6 L967.1,349.2 L968.4,349.7 L969.7,350.3 L971.0,350.8 L972.3,351.4 L973.6,351.9 L974.9,352.5 L976.2,353.0 L977.5,353.6 L978.8,354.1 L980.2,354.6 L981.5,355.2 L982.8,355.7 L984.1,356.2 L985.4,356.8 L986.7,357.3 L988.0,357.8 L989.3,358.3 L990.6,358.9 L991.9,359.4 L993.2,359.9 L994.5,360.4 L995.8,360.9 L997.1,361.4 L998.4,361.9 L999.7,362.4 L1001.0,362.9 L1002.4,363.4 L1003.7,363.9 L1005.0,364.4 L1006.3,364.9 L1007.6,365.4 L1008.9,365.9 L1010.2,366.3 L1011.5,366.8 L1012.8,367.3 L1014.1,367.8 L1015.4,368.2 L1016.7,368.7 L1018.0,369.2 L1019.3,369.6 L1020.6,370.1 L1021.9,370.5 L1023.2,371.0 L1024.6,371.5 L1025.9,371.9 L1027.2,372.4 L1028.5,372.8 L1029.8,373.2 L1031.1,373.7 L1031.1,373.7 L1032.4,374.1 L1033.7,374.6 L1035.0,375.0 L1036.3,375.5 L1037.6,375.9 L1038.9,376.4 L1040.2,376.8 L1041.5,377.2 L1042.8,377.6 L1044.1,378.1 L1045.4,378.5 L1046.7,378.9 L1048.1,379.3 L1049.4,379.7 L1050.7,380.1 L1052.0,380.5 L1053.3,380.9 L1054.6,381.3 L1055.9,381.6 L1057.2,382.0 L1058.5,382.4 L1059.8,382.8 L1061.1,383.1 L1062.4,383.5 L1063.7,383.9 L1065.0,384.2 L1066.3,384.6 L1067.6,384.9 L1068.9,385.3 L1070.3,385.6 L1071.6,385.9 L1072.9,386.3 L1074.2,386.6 L1075.5,387.0 L1076.8,387.3 L1078.1,387.6 L1079.4,387.9 L1080.7,388.2 L1082.0,388.6 L1083.3,388.9 L1084.6,389.2 L1085.9,389.5 L1087.2,389.8 L1088.5,390.1 L1089.8,390.4 L1091.1,390.7 L1092.5,391.0 L1093.8,391.3 L1095.1,391.6 L1096.4,391.9 L1097.7,392.2 L1099.0,392.4 L1100.3,392.7 L1101.6,393.0 L1102.9,393.3 L1104.2,393.6 L1105.5,393.8 L1106.8,394.1 L1108.1,394.4 L1109.4,394.7 L1110.7,394.9 L1112.0,395.2 L1113.3,395.5 L1114.7,395.7 L1116.0,396.0 L1117.3,396.3 L1118.6,396.5 L1119.9,396.8 L1121.2,397.0 L1122.5,397.3 L1123.8,397.5 L1125.1,397.8 L1126.4,398.0 L1127.7,398.3 L1129.0,398.6 L1130.3,398.8 L1131.6,399.1 L1132.9,399.3 L1134.2,399.5 L1135.5,399.8 L1136.9,400.0 L1138.2,400.3 L1139.5,400.5 L1140.8,400.8 L1142.1,401.0 L1143.4,401.3 L1144.7,401.5 L1146.0,401.8 L1147.3,402.0 L1148.6,402.3 L1149.9,402.5 L1151.2,402.7 L1152.5,403.0 L1153.8,403.2 L1155.1,403.5 L1156.4,403.7 L1157.7,404.0 L1159.1,404.2 L1160.4,404.5 L1161.7,404.7 L1163.0,404.9 L1164.3,405.2 L1165.6,405.4 L1166.9,405.7 L1168.2,405.9 L1169.5,406.2 L1170.8,406.4 L1172.1,406.7 L1173.4,406.9 L1174.7,407.2 L1176.0,407.5 L1177.3,407.7 L1178.6,408.0 L1179.9,408.2 L1181.3,408.5 L1182.6,408.7 L1183.9,409.0 L1185.2,409.3 L1186.5,409.5 L1187.8,409.8 L1189.1,410.1 L1190.4,410.3 L1191.7,410.6 L1193.0,410.9 L1194.3,411.1 L1195.6,411.4 L1196.9,411.7 L1198.2,412.0 L1199.5,412.3 L1200.8,412.5 L1202.1,412.8 L1203.4,413.1 L1204.8,413.4 L1206.1,413.7 L1207.4,414.0 L1208.7,414.3 L1210.0,414.6 L1211.3,414.9 L1212.6,415.2 L1213.9,415.5 L1215.2,415.8 L1216.5,416.1 L1217.8,416.4 L1219.1,416.7 L1220.4,417.1 L1221.7,417.4 L1223.0,417.7 L1224.3,418.0 L1225.6,418.4 L1227.0,418.7 L1228.3,419.0 L1229.6,419.4 L1230.9,419.7 L1232.2,420.1 L1233.5,420.4 L1234.8,420.8 L1236.1,421.1 L1237.4,421.5 L1238.7,421.8 L1240.0,422.2 L1241.3,422.6 L1242.6,423.0 L1243.9,423.3 L1245.2,423.7 L1246.5,424.1 L1247.8,424.5 L1249.2,424.9 L1250.5,425.3 L1251.8,425.7 L1253.1,426.1 L1254.4,426.5 L1255.7,426.9 L1257.0,427.3 L1258.3,427.7 L1259.6,428.2 L1260.9,428.6 L1262.2,429.0 L1263.5,429.5 L1264.8,429.9 L1266.1,430.4 L1267.4,430.8 L1268.7,431.3 L1270.0,431.8 L1271.4,432.2 L1272.7,432.7 L1274.0,433.2 L1275.3,433.7 L1276.6,434.1 L1277.9,434.6 L1279.2,435.1 L1280.5,435.6 L1281.8,436.1 L1283.1,436.7 L1284.4,437.2 L1285.7,437.7 L1287.0,438.2 L1288.3,438.8 L1289.6,439.3 L1290.9,439.9 L1290.9,439.9 L1293.7,441.0 L1296.5,442.1 L1299.2,443.3 L1302.0,444.5 L1304.8,445.7 L1307.5,447.0 L1310.3,448.2 L1313.1,449.5 L1315.8,450.8 L1318.6,452.1 L1321.4,453.4 L1324.1,454.8 L1326.9,456.1 L1329.7,457.5 L1332.4,458.9 L1335.2,460.4 L1338.0,461.8 L1340.7,463.3 L1343.5,464.7 L1346.3,466.2 L1349.0,467.7 L1351.8,469.3 L1354.6,470.8 L1357.3,472.4 L1360.1,474.0 L1362.9,475.6 L1365.6,477.2 L1368.4,478.8 L1371.2,480.5 L1373.9,482.2 L1376.7,483.9 L1379.5,485.6 L1382.2,487.3 L1385.0,489.0 L1387.8,490.8 L1390.5,492.6 L1393.3,494.3 L1396.1,496.2 L1398.8,498.0 L1401.6,499.8 L1404.4,501.7 L1407.1,503.5 L1409.9,505.4 L1412.7,507.3 L1415.4,509.3 L1418.2,511.2 L1421.0,513.1 L1423.7,515.1 L1426.5,517.1 L1429.3,519.1 L1432.0,521.1 L1434.8,523.1 L1437.6,525.2 L1440.3,527.2 L1443.1,529.3 L1445.9,531.4 L1448.6,533.5 L1451.4,535.6 L1454.2,537.7 L1456.9,539.9 L1459.7,542.0 L1462.5,544.2 L1465.2,546.4 L1468.0,548.6 L1470.8,550.8 L1473.5,553.1 L1476.3,555.3 L1479.1,557.6 L1481.8,559.8 L1484.6,562.1 L1487.4,564.4 L1490.1,566.7 L1492.9,569.0 L1495.7,571.4 L1498.4,573.7 L1501.2,576.1 L1504.0,578.5 L1506.7,580.9 L1509.5,583.3 L1512.3,585.7 L1515.0,588.1 L1517.8,590.5 L1520.6,593.0 L1523.3,595.5 L1526.1,597.9 L1528.9,600.4 L1531.6,602.9 L1534.4,605.4 L1537.2,608.0 L1539.9,610.5 L1542.7,613.0 L1545.5,615.6 L1548.2,618.2 L1551.0,620.8 L1553.8,623.3 L1556.5,625.9 L1559.3,628.6 L1562.1,631.2 L1564.8,633.8 L1567.6,636.5 L1570.4,639.1 L1573.1,641.8 L1575.9,644.5 L1578.7,647.2 L1581.4,649.9 L1584.2,652.6 L1587.0,655.3 L1589.7,658.0 L1592.5,660.8 L1595.3,663.5 L1598.0,666.3 L1600.8,669.0 L1603.6,671.8 L1606.3,674.6 L1609.1,677.4 L1611.9,680.2 L1614.6,683.0 L1617.4,685.8 L1620.2,688.7 L1622.9,691.5 L1625.7,694.4 L1628.5,697.2 L1631.2,700.1 L1634.0,703.0 L1636.8,705.8 L1639.5,708.7 L1642.3,711.6 L1645.1,714.5 L1647.8,717.5 L1650.6,720.4 L1653.4,723.3 L1656.1,726.3 L1658.9,729.2 L1661.7,732.2 L1664.4,735.1 L1667.2,738.1 L1670.0,741.1 L1672.7,744.1 L1675.5,747.1 L1678.3,750.1 L1681.0,753.1 L1683.8,756.1 L1686.6,759.1 L1689.3,762.1 L1692.1,765.2 L1694.9,768.2 L1697.6,771.2 L1700.4,774.3 L1703.2,777.4 L1705.9,780.4 L1708.7,783.5 L1711.5,786.6 L1714.2,789.6 L1717.0,792.7 L1719.8,795.8 L1722.5,798.9 L1725.3,802.0 L1728.1,805.1 L1730.8,808.3 L1733.6,811.4 L1736.4,814.5 L1739.1,817.6 L1741.9,820.8 L1744.7,823.9 L1747.4,827.1 L1750.2,830.2 L1753.0,833.4 L1755.7,836.5 L1758.5,839.7 L1761.3,842.9 L1764.0,846.0 L1766.8,849.2 L1769.6,852.4 L1772.3,855.6 L1775.1,858.7 L1777.9,861.9 L1780.6,865.1 L1783.4,868.3 L1786.2,871.5 L1788.9,874.7 L1791.7,877.9 L1794.5,881.2 L1797.2,884.4 L1800.0,887.6 L1802.8,890.8 L1805.5,894.0 L1808.3,897.2 L1811.1,900.5 L1813.8,903.7 L1816.6,906.9 L1819.4,910.2 L1822.1,913.4 L1824.9,916.7 L1827.7,919.9 L1830.4,923.1 L1833.2,926.4 L1836.0,929.6 L1838.7,932.9 L1841.5,936.1" fill="none" stroke="#0a6fdc" stroke-width="5.2" stroke-linejoin="round" clip-path="url(#gap)"/>
<polygon points="511.36,84.07 531.36,121.47 491.36,121.47" fill="#0a6fdc"/>
<polygon points="771.22,216.41 791.22,253.81 751.22,253.81" fill="#0a6fdc"/>
<polygon points="1031.08,348.75 1051.08,386.15 1011.08,386.15" fill="#0a6fdc"/>
<polygon points="1290.94,414.92 1310.94,452.32 1270.94,452.32" fill="#0a6fdc"/>
<polygon points="1841.50,911.19 1861.50,948.59 1821.50,948.59" fill="#0a6fdc"/>
<path d="M511.4,439.9 L512.7,441.1 L514.0,442.4 L515.3,443.6 L516.6,444.9 L517.9,446.2 L519.2,447.5 L520.5,448.8 L521.8,450.1 L523.1,451.4 L524.4,452.7 L525.7,454.1 L527.0,455.4 L528.3,456.8 L529.6,458.1 L530.9,459.5 L532.3,460.9 L533.6,462.3 L534.9,463.6 L536.2,465.0 L537.5,466.5 L538.8,467.9 L540.1,469.3 L541.4,470.7 L542.7,472.2 L544.0,473.6 L545.3,475.0 L546.6,476.5 L547.9,478.0 L549.2,479.4 L550.5,480.9 L551.8,482.4 L553.1,483.9 L554.5,485.4 L555.8,486.9 L557.1,488.4 L558.4,489.9 L559.7,491.4 L561.0,493.0 L562.3,494.5 L563.6,496.1 L564.9,497.6 L566.2,499.2 L567.5,500.7 L568.8,502.3 L570.1,503.9 L571.4,505.4 L572.7,507.0 L574.0,508.6 L575.3,510.2 L576.7,511.8 L578.0,513.4 L579.3,515.0 L580.6,516.6 L581.9,518.3 L583.2,519.9 L584.5,521.5 L585.8,523.1 L587.1,524.8 L588.4,526.4 L589.7,528.1 L591.0,529.7 L592.3,531.4 L593.6,533.1 L594.9,534.7 L596.2,536.4 L597.5,538.1 L598.9,539.8 L600.2,541.4 L601.5,543.1 L602.8,544.8 L604.1,546.5 L605.4,548.2 L606.7,549.9 L608.0,551.6 L609.3,553.4 L610.6,555.1 L611.9,556.8 L613.2,558.5 L614.5,560.2 L615.8,562.0 L617.1,563.7 L618.4,565.4 L619.7,567.2 L621.0,568.9 L622.4,570.7 L623.7,572.4 L625.0,574.2 L626.3,575.9 L627.6,577.7 L628.9,579.4 L630.2,581.2 L631.5,583.0 L632.8,584.7 L634.1,586.5 L635.4,588.3 L636.7,590.0 L638.0,591.8 L639.3,593.6 L640.6,595.4 L641.9,597.1 L643.2,598.9 L644.6,600.7 L645.9,602.5 L647.2,604.3 L648.5,606.1 L649.8,607.9 L651.1,609.6 L652.4,611.4 L653.7,613.2 L655.0,615.0 L656.3,616.8 L657.6,618.6 L658.9,620.4 L660.2,622.2 L661.5,624.0 L662.8,625.8 L664.1,627.6 L665.4,629.4 L666.8,631.2 L668.1,633.0 L669.4,634.8 L670.7,636.6 L672.0,638.4 L673.3,640.2 L674.6,642.0 L675.9,643.8 L677.2,645.6 L678.5,647.5 L679.8,649.3 L681.1,651.1 L682.4,652.9 L683.7,654.7 L685.0,656.5 L686.3,658.3 L687.6,660.1 L689.0,661.9 L690.3,663.7 L691.6,665.5 L692.9,667.3 L694.2,669.1 L695.5,670.8 L696.8,672.6 L698.1,674.4 L699.4,676.2 L700.7,678.0 L702.0,679.8 L703.3,681.6 L704.6,683.4 L705.9,685.2 L707.2,686.9 L708.5,688.7 L709.8,690.5 L711.2,692.3 L712.5,694.1 L713.8,695.8 L715.1,697.6 L716.4,699.4 L717.7,701.1 L719.0,702.9 L720.3,704.7 L721.6,706.4 L722.9,708.2 L724.2,709.9 L725.5,711.7 L726.8,713.4 L728.1,715.2 L729.4,716.9 L730.7,718.7 L732.0,720.4 L733.4,722.1 L734.7,723.9 L736.0,725.6 L737.3,727.3 L738.6,729.0 L739.9,730.7 L741.2,732.5 L742.5,734.2 L743.8,735.9 L745.1,737.6 L746.4,739.3 L747.7,741.0 L749.0,742.6 L750.3,744.3 L751.6,746.0 L752.9,747.7 L754.2,749.4 L755.6,751.0 L756.9,752.7 L758.2,754.4 L759.5,756.0 L760.8,757.7 L762.1,759.3 L763.4,761.0 L764.7,762.6 L766.0,764.2 L767.3,765.9 L768.6,767.5 L769.9,769.1 L771.2,770.7 L771.2,770.7 L772.5,772.5 L773.8,774.3 L775.1,776.2 L776.4,778.0 L777.7,779.8 L779.1,781.7 L780.4,783.5 L781.7,785.4 L783.0,787.2 L784.3,789.0 L785.6,790.9 L786.9,792.7 L788.2,794.6 L789.5,796.4 L790.8,798.3 L792.1,800.1 L793.4,802.0 L794.7,803.9 L796.0,805.7 L797.3,807.6 L798.6,809.4 L799.9,811.3 L801.3,813.2 L802.6,815.0 L803.9,816.9 L805.2,818.8 L806.5,820.7 L807.8,822.5 L809.1,824.4 L810.4,826.3 L811.7,828.1 L813.0,830.0 L814.3,831.9 L815.6,833.8 L816.9,835.6 L818.2,837.5 L819.5,839.4 L820.8,841.3 L822.1,843.1 L823.5,845.0 L824.8,846.9 L826.1,848.8 L827.4,850.7 L828.7,852.5 L830.0,854.4 L831.3,856.3 L832.6,858.2 L833.9,860.0 L835.2,861.9 L836.5,863.8 L837.8,865.7 L839.1,867.5 L840.4,869.4 L841.7,871.3 L843.0,873.1 L844.3,875.0 L845.7,876.9 L847.0,878.8 L848.3,880.6 L849.6,882.5 L850.9,884.4 L852.2,886.2 L853.5,888.1 L854.8,889.9 L856.1,891.8 L857.4,893.7 L858.7,895.5 L860.0,897.4 L861.3,899.2 L862.6,901.1 L863.9,902.9 L865.2,904.8 L866.5,906.6 L867.9,908.5 L869.2,910.3 L870.5,912.1 L871.8,914.0 L873.1,915.8 L874.4,917.7 L875.7,919.5 L877.0,921.3 L878.3,923.1 L879.6,925.0 L880.9,926.8 L882.2,928.6 L883.5,930.4 L884.8,932.2 L886.1,934.0 L887.4,935.8 L888.7,937.6 L890.1,939.4 L891.4,941.2 L892.7,943.0 L894.0,944.8 L895.3,946.6 L896.6,948.4 L897.9,950.2 L899.2,951.9 L900.5,953.7 L901.8,955.5 L903.1,957.2 L904.4,959.0 L905.7,960.8 L907.0,962.5 L908.3,964.3 L909.6,966.0 L910.9,967.8 L912.2,969.5 L913.6,971.2 L914.9,972.9 L916.2,974.7 L917.5,976.4 L918.8,978.1 L920.1,979.8 L921.4,981.5 L922.7,983.2 L924.0,984.9 L925.3,986.6 L926.6,988.3 L927.9,990.0 L929.2,991.7 L930.5,993.3 L931.8,995.0 L933.1,996.6 L934.4,998.3 L935.8,1000.0 L937.1,1001.6 L938.4,1003.2 L939.7,1004.9 L941.0,1006.5 L942.3,1008.1 L943.6,1009.7 L944.9,1011.3 L946.2,1012.9 L947.5,1014.5 L948.8,1016.1 L950.1,1017.7 L951.4,1019.3 L952.7,1020.9 L954.0,1022.4 L955.3,1024.0 L956.6,1025.6 L958.0,1027.1 L959.3,1028.7 L960.6,1030.2 L961.9,1031.7 L963.2,1033.2 L964.5,1034.8 L965.8,1036.3 L967.1,1037.8 L968.4,1039.3 L969.7,1040.8 L971.0,1042.2 L972.3,1043.7 L973.6,1045.2 L974.9,1046.6 L976.2,1048.1 L977.5,1049.5 L978.8,1051.0 L980.2,1052.4 L981.5,1053.8 L982.8,1055.2 L984.1,1056.6 L985.4,1058.0 L986.7,1059.4 L988.0,1060.8 L989.3,1062.2 L990.6,1063.5 L991.9,1064.9 L993.2,1066.3 L994.5,1067.6 L995.8,1068.9 L997.1,1070.3 L998.4,1071.6 L999.7,1072.9 L1001.0,1074.2 L1002.4,1075.5 L1003.7,1076.7 L1005.0,1078.0 L1006.3,1079.3 L1007.6,1080.5 L1008.9,1081.8 L1010.2,1083.0 L1011.5,1084.3 L1012.8,1085.5 L1014.1,1086.7 L1015.4,1087.9 L1016.7,1089.1 L1018.0,1090.3 L1019.3,1091.4 L1020.6,1092.6 L1021.9,1093.7 L1023.2,1094.9 L1024.6,1096.0 L1025.9,1097.2 L1027.2,1098.3 L1028.5,1099.4 L1029.8,1100.5 L1031.1,1101.6 L1031.1,1101.6 L1032.4,1103.0 L1033.7,1104.4 L1035.0,1105.8 L1036.3,1107.2 L1037.6,1108.6 L1038.9,1110.0 L1040.2,1111.4 L1041.5,1112.8 L1042.8,1114.1 L1044.1,1115.5 L1045.4,1116.8 L1046.7,1118.2 L1048.1,1119.5 L1049.4,1120.9 L1050.7,1122.2 L1052.0,1123.5 L1053.3,1124.9 L1054.6,1126.2 L1055.9,1127.5 L1057.2,1128.8 L1058.5,1130.1 L1059.8,1131.4 L1061.1,1132.7 L1062.4,1133.9 L1063.7,1135.2 L1065.0,1136.5 L1066.3,1137.7 L1067.6,1139.0 L1068.9,1140.2 L1070.3,1141.4 L1071.6,1142.7 L1072.9,1143.9 L1074.2,1145.1 L1075.5,1146.3 L1076.8,1147.5 L1078.1,1148.7 L1079.4,1149.9 L1080.7,1151.1 L1082.0,1152.3 L1083.3,1153.5 L1084.6,1154.7 L1085.9,1155.8 L1087.2,1157.0 L1088.5,1158.1 L1089.8,1159.3 L1091.1,1160.4 L1092.5,1161.5 L1093.8,1162.7 L1095.1,1163.8 L1096.4,1164.9 L1097.7,1166.0 L1099.0,1167.1 L1100.3,1168.2 L1101.6,1169.3 L1102.9,1170.4 L1104.2,1171.5 L1105.5,1172.5 L1106.8,1173.6 L1108.1,1174.7 L1109.4,1175.7 L1110.7,1176.8 L1112.0,1177.8 L1113.3,1178.8 L1114.7,1179.9 L1116.0,1180.9 L1117.3,1181.9 L1118.6,1182.9 L1119.9,1183.9 L1121.2,1184.9 L1122.5,1185.9 L1123.8,1186.9 L1125.1,1187.9 L1126.4,1188.8 L1127.7,1189.8 L1129.0,1190.8 L1130.3,1191.7 L1131.6,1192.7 L1132.9,1193.6 L1134.2,1194.6 L1135.5,1195.5 L1136.9,1196.4 L1138.2,1197.4 L1139.5,1198.3 L1140.8,1199.2 L1142.1,1200.1 L1143.4,1201.0 L1144.7,1201.9 L1146.0,1202.8 L1147.3,1203.7 L1148.6,1204.5 L1149.9,1205.4 L1151.2,1206.3 L1152.5,1207.1 L1153.8,1208.0 L1155.1,1208.8 L1156.4,1209.7 L1157.7,1210.5 L1159.1,1211.3 L1160.4,1212.2 L1161.7,1213.0 L1163.0,1213.8 L1164.3,1214.6 L1165.6,1215.4 L1166.9,1216.2 L1168.2,1217.0 L1169.5,1217.8 L1170.8,1218.5 L1172.1,1219.3 L1173.4,1220.1 L1174.7,1220.8 L1176.0,1221.6 L1177.3,1222.3 L1178.6,1223.1 L1179.9,1223.8 L1181.3,1224.6 L1182.6,1225.3 L1183.9,1226.0 L1185.2,1226.7 L1186.5,1227.4 L1187.8,1228.1 L1189.1,1228.8 L1190.4,1229.5 L1191.7,1230.2 L1193.0,1230.9 L1194.3,1231.6 L1195.6,1232.3 L1196.9,1232.9 L1198.2,1233.6 L1199.5,1234.2 L1200.8,1234.9 L1202.1,1235.5 L1203.4,1236.2 L1204.8,1236.8 L1206.1,1237.4 L1207.4,1238.1 L1208.7,1238.7 L1210.0,1239.3 L1211.3,1239.9 L1212.6,1240.5 L1213.9,1241.1 L1215.2,1241.7 L1216.5,1242.3 L1217.8,1242.9 L1219.1,1243.4 L1220.4,1244.0 L1221.7,1244.6 L1223.0,1245.1 L1224.3,1245.7 L1225.6,1246.2 L1227.0,1246.8 L1228.3,1247.3 L1229.6,1247.8 L1230.9,1248.4 L1232.2,1248.9 L1233.5,1249.4 L1234.8,1249.9 L1236.1,1250.4 L1237.4,1250.9 L1238.7,1251.4 L1240.0,1251.9 L1241.3,1252.4 L1242.6,1252.9 L1243.9,1253.3 L1245.2,1253.8 L1246.5,1254.3 L1247.8,1254.7 L1249.2,1255.2 L1250.5,1255.6 L1251.8,1256.1 L1253.1,1256.5 L1254.4,1256.9 L1255.7,1257.4 L1257.0,1257.8 L1258.3,1258.2 L1259.6,1258.6 L1260.9,1259.0 L1262.2,1259.4 L1263.5,1259.8 L1264.8,1260.2 L1266.1,1260.6 L1267.4,1261.0 L1268.7,1261.3 L1270.0,1261.7 L1271.4,1262.1 L1272.7,1262.4 L1274.0,1262.8 L1275.3,1263.2 L1276.6,1263.5 L1277.9,1263.8 L1279.2,1264.2 L1280.5,1264.5 L1281.8,1264.8 L1283.1,1265.2 L1284.4,1265.5 L1285.7,1265.8 L1287.0,1266.1 L1288.3,1266.4 L1289.6,1266.7 L1290.9,1267.0 L1290.9,1267.0 L1293.7,1268.4 L1296.5,1269.9 L1299.2,1271.4 L1302.0,1272.8 L1304.8,1274.2 L1307.5,1275.6 L1310.3,1277.1 L1313.1,1278.5 L1315.8,1279.8 L1318.6,1281.2 L1321.4,1282.6 L1324.1,1284.0 L1326.9,1285.3 L1329.7,1286.7 L1332.4,1288.0 L1335.2,1289.3 L1338.0,1290.6 L1340.7,1291.9 L1343.5,1293.2 L1346.3,1294.5 L1349.0,1295.8 L1351.8,1297.1 L1354.6,1298.3 L1357.3,1299.6 L1360.1,1300.8 L1362.9,1302.1 L1365.6,1303.3 L1368.4,1304.5 L1371.2,1305.7 L1373.9,1306.9 L1376.7,1308.1 L1379.5,1309.3 L1382.2,1310.5 L1385.0,1311.6 L1387.8,1312.8 L1390.5,1313.9 L1393.3,1315.1 L1396.1,1316.2 L1398.8,1317.3 L1401.6,1318.5 L1404.4,1319.6 L1407.1,1320.7 L1409.9,1321.8 L1412.7,1322.9 L1415.4,1323.9 L1418.2,1325.0 L1421.0,1326.1 L1423.7,1327.1 L1426.5,1328.2 L1429.3,1329.2 L1432.0,1330.3 L1434.8,1331.3 L1437.6,1332.3 L1440.3,1333.3 L1443.1,1334.3 L1445.9,1335.3 L1448.6,1336.3 L1451.4,1337.3 L1454.2,1338.3 L1456.9,1339.2 L1459.7,1340.2 L1462.5,1341.2 L1465.2,1342.1 L1468.0,1343.1 L1470.8,1344.0 L1473.5,1344.9 L1476.3,1345.8 L1479.1,1346.8 L1481.8,1347.7 L1484.6,1348.6 L1487.4,1349.5 L1490.1,1350.4 L1492.9,1351.3 L1495.7,1352.1 L1498.4,1353.0 L1501.2,1353.9 L1504.0,1354.7 L1506.7,1355.6 L1509.5,1356.4 L1512.3,1357.3 L1515.0,1358.1 L1517.8,1359.0 L1520.6,1359.8 L1523.3,1360.6 L1526.1,1361.4 L1528.9,1362.2 L1531.6,1363.0 L1534.4,1363.8 L1537.2,1364.6 L1539.9,1365.4 L1542.7,1366.2 L1545.5,1367.0 L1548.2,1367.8 L1551.0,1368.5 L1553.8,1369.3 L1556.5,1370.1 L1559.3,1370.8 L1562.1,1371.6 L1564.8,1372.3 L1567.6,1373.1 L1570.4,1373.8 L1573.1,1374.5 L1575.9,1375.2 L1578.7,1376.0 L1581.4,1376.7 L1584.2,1377.4 L1587.0,1378.1 L1589.7,1378.8 L1592.5,1379.5 L1595.3,1380.2 L1598.0,1380.9 L1600.8,1381.6 L1603.6,1382.3 L1606.3,1383.0 L1609.1,1383.6 L1611.9,1384.3 L1614.6,1385.0 L1617.4,1385.6 L1620.2,1386.3 L1622.9,1387.0 L1625.7,1387.6 L1628.5,1388.3 L1631.2,1388.9 L1634.0,1389.6 L1636.8,1390.2 L1639.5,1390.9 L1642.3,1391.5 L1645.1,1392.1 L1647.8,1392.7 L1650.6,1393.4 L1653.4,1394.0 L1656.1,1394.6 L1658.9,1395.2 L1661.7,1395.8 L1664.4,1396.5 L1667.2,1397.1 L1670.0,1397.7 L1672.7,1398.3 L1675.5,1398.9 L1678.3,1399.5 L1681.0,1400.1 L1683.8,1400.7 L1686.6,1401.3 L1689.3,1401.9 L1692.1,1402.4 L1694.9,1403.0 L1697.6,1403.6 L1700.4,1404.2 L1703.2,1404.8 L1705.9,1405.3 L1708.7,1405.9 L1711.5,1406.5 L1714.2,1407.1 L1717.0,1407.6 L1719.8,1408.2 L1722.5,1408.8 L1725.3,1409.3 L1728.1,1409.9 L1730.8,1410.5 L1733.6,1411.0 L1736.4,1411.6 L1739.1,1412.1 L1741.9,1412.7 L1744.7,1413.3 L1747.4,1413.8 L1750.2,1414.4 L1753.0,1414.9 L1755.7,1415.5 L1758.5,1416.0 L1761.3,1416.6 L1764.0,1417.1 L1766.8,1417.7 L1769.6,1418.2 L1772.3,1418.8 L1775.1,1419.3 L1777.9,1419.9 L1780.6,1420.4 L1783.4,1420.9 L1786.2,1421.5 L1788.9,1422.0 L1791.7,1422.6 L1794.5,1423.1 L1797.2,1423.7 L1800.0,1424.2 L1802.8,1424.8 L1805.5,1425.3 L1808.3,1425.8 L1811.1,1426.4 L1813.8,1426.9 L1816.6,1427.5 L1819.4,1428.0 L1822.1,1428.6 L1824.9,1429.1 L1827.7,1429.7 L1830.4,1430.2 L1833.2,1430.8 L1836.0,1431.3 L1838.7,1431.9 L1841.5,1432.4" fill="none" stroke="#00a864" stroke-width="5.2" stroke-linejoin="round" clip-path="url(#gap)"/>
<polygon points="511.36,464.78 531.36,427.38 491.36,427.38" fill="#00a864"/>
<polygon points="771.22,795.63 791.22,758.23 751.22,758.23" fill="#00a864"/>
<polygon points="1031.08,1126.48 1051.08,1089.08 1011.08,1089.08" fill="#00a864"/>
<polygon points="1290.94,1291.91 1310.94,1254.51 1270.94,1254.51" fill="#00a864"/>
<polygon points="1841.50,1457.33 1861.50,1419.93 1821.50,1419.93" fill="#00a864"/>
<path d="M511.4,770.7 L771.2,1432.4" fill="none" stroke="#c27ae0" stroke-width="5.2" stroke-linejoin="round" clip-path="url(#gap)"/>
<polygon points="511.36,749.10 533.66,770.70 511.36,792.30 489.06,770.70" fill="#c27ae0"/>
<polygon points="771.22,1410.80 793.52,1432.40 771.22,1454.00 748.92,1432.40" fill="#c27ae0"/>
<path d="M511.4,770.7 L771.2,1432.4" fill="none" stroke="#d89c00" stroke-width="5.2" stroke-linejoin="round" clip-path="url(#gap)"/>
<polygon points="487.89,770.70 523.09,749.30 523.09,792.10" fill="#d89c00"/>
<polygon points="747.75,1432.40 782.95,1411.00 782.95,1453.80" fill="#d89c00"/>
<rect x="1323.00" y="87.50" width="721.00" height="348.00" fill="#000"/>
<rect x="1304.50" y="66.00" width="720.00" height="345.50" fill="#fff" stroke="#000" stroke-width="5.0"/>
<line x1="1569.2" y1="72.0" x2="1598.4" y2="14.5" stroke="#000" stroke-width="5.6" stroke-linecap="butt"/>
<line x1="1600.0" y1="72.0" x2="1629.0" y2="14.5" stroke="#000" stroke-width="5.6" stroke-linecap="butt"/>
<line x1="1538.0" y1="1526.5" x2="1565.5" y2="1469.5" stroke="#000" stroke-width="5.6" stroke-linecap="butt"/>
<line x1="1568.0" y1="1526.5" x2="1598.0" y2="1469.5" stroke="#000" stroke-width="5.6" stroke-linecap="butt"/>
<line x1="1306" y1="98.6" x2="1413.5" y2="98.6" stroke="#505050" stroke-width="5"/>
<rect x="1344.30" y="82.40" width="32.40" height="32.40" fill="#505050"/>
<text x="1424" y="112.1" style="font-family:'Liberation Serif','Times New Roman',serif;font-weight:bold;font-size:44.3px" stroke="#fff" stroke-width="0.8">A (raw liquid)</text>
<line x1="1306" y1="154.4" x2="1413.5" y2="154.4" stroke="#f83c3c" stroke-width="5"/>
<circle cx="1360.50" cy="154.40" r="17.40" fill="#f83c3c"/>
<text x="1424" y="167.9" style="font-family:'Liberation Serif','Times New Roman',serif;font-weight:bold;font-size:44.3px" stroke="#fff" stroke-width="0.8">B (adding 1% fertilizer pH7)</text>
<line x1="1306" y1="211.2" x2="1413.5" y2="211.2" stroke="#0a6fdc" stroke-width="5"/>
<polygon points="1360.50,186.27 1380.50,223.67 1340.50,223.67" fill="#0a6fdc"/>
<text x="1424" y="224.7" style="font-family:'Liberation Serif','Times New Roman',serif;font-weight:bold;font-size:44.3px" stroke="#fff" stroke-width="0.8">C (adding 10% fertilizer pH7)</text>
<line x1="1306" y1="268.5" x2="1413.5" y2="268.5" stroke="#00a864" stroke-width="5"/>
<polygon points="1360.50,293.43 1380.50,256.03 1340.50,256.03" fill="#00a864"/>
<text x="1424" y="282.0" style="font-family:'Liberation Serif','Times New Roman',serif;font-weight:bold;font-size:44.3px" stroke="#fff" stroke-width="0.8">D (adding 100% fertilizer pH7)</text>
<line x1="1306" y1="325.6" x2="1413.5" y2="325.6" stroke="#c27ae0" stroke-width="5"/>
<polygon points="1360.50,304.40 1378.30,325.60 1360.50,346.80 1342.70,325.60" fill="#c27ae0"/>
<text x="1424" y="339.1" style="font-family:'Liberation Serif','Times New Roman',serif;font-weight:bold;font-size:44.3px" stroke="#fff" stroke-width="0.8">E (adding 10% fertilizer pH5)</text>
<line x1="1306" y1="382.8" x2="1413.5" y2="382.8" stroke="#d89c00" stroke-width="5"/>
<polygon points="1340.90,382.80 1370.30,362.50 1370.30,403.10" fill="#d89c00"/>
<text x="1424" y="396.3" style="font-family:'Liberation Serif','Times New Roman',serif;font-weight:bold;font-size:44.3px" stroke="#fff" stroke-width="0.8">F (adding 10% fertilizer pH9)</text>
</svg>
</body></html>
